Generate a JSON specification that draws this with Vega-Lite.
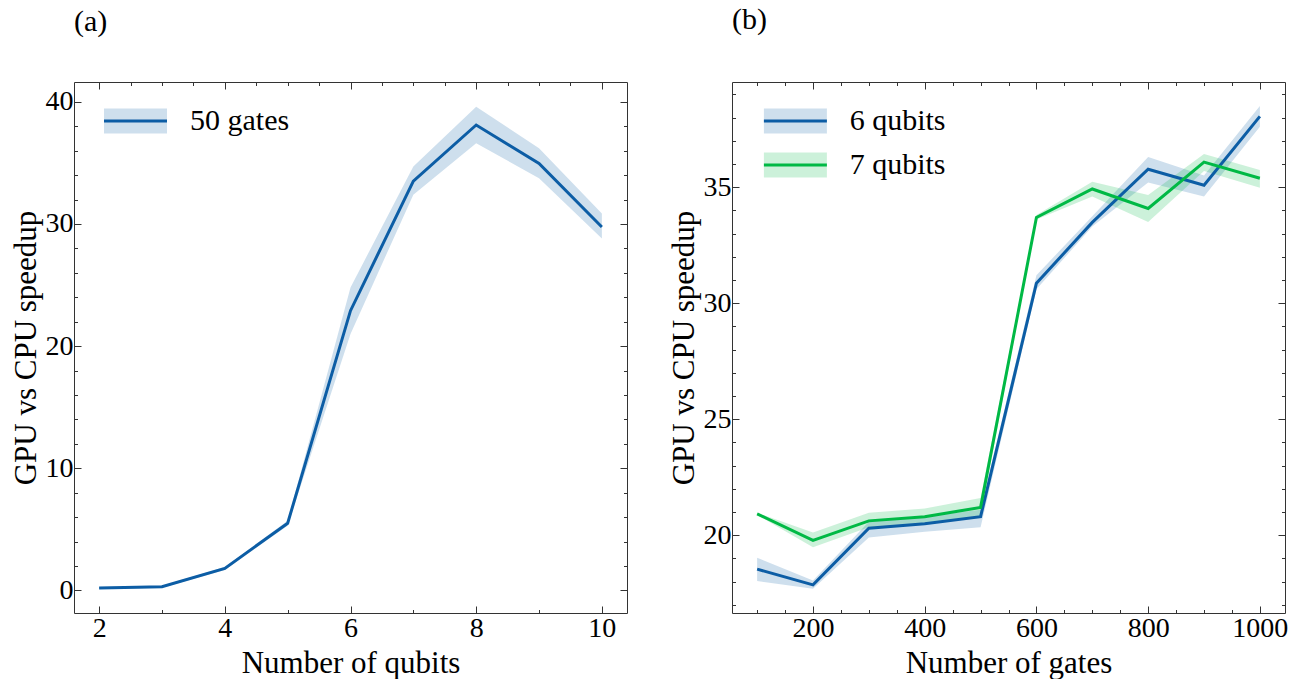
{
  "$schema": "https://vega.github.io/schema/vega-lite/v6.json",
  "padding": {"left": 10, "top": 5, "right": 0, "bottom": 0},
  "background": "white",
  "datasets": {
    "speedup": [
      {"panel": "a", "x": 2, "series": "50 gates", "y": 0.2, "lo": 0.12, "hi": 0.28},
      {"panel": "a", "x": 3, "series": "50 gates", "y": 0.3, "lo": 0.22, "hi": 0.38},
      {"panel": "a", "x": 4, "series": "50 gates", "y": 1.8, "lo": 1.68, "hi": 1.92},
      {"panel": "a", "x": 5, "series": "50 gates", "y": 5.5, "lo": 5.3, "hi": 5.7},
      {"panel": "a", "x": 6, "series": "50 gates", "y": 22.9, "lo": 21.0, "hi": 24.8},
      {"panel": "a", "x": 7, "series": "50 gates", "y": 33.5, "lo": 32.4, "hi": 34.7},
      {"panel": "a", "x": 8, "series": "50 gates", "y": 38.1, "lo": 36.6, "hi": 39.6},
      {"panel": "a", "x": 9, "series": "50 gates", "y": 34.95, "lo": 33.75, "hi": 36.2},
      {"panel": "a", "x": 10, "series": "50 gates", "y": 29.75, "lo": 28.8, "hi": 30.85},
      {"panel": "b", "x": 100, "series": "6 qubits", "y": 18.54, "lo": 18.03, "hi": 19.03},
      {"panel": "b", "x": 200, "series": "6 qubits", "y": 17.86, "lo": 17.7, "hi": 18.05},
      {"panel": "b", "x": 300, "series": "6 qubits", "y": 20.3, "lo": 19.9, "hi": 20.58},
      {"panel": "b", "x": 400, "series": "6 qubits", "y": 20.5, "lo": 20.15, "hi": 20.8},
      {"panel": "b", "x": 500, "series": "6 qubits", "y": 20.8, "lo": 20.35, "hi": 21.1},
      {"panel": "b", "x": 600, "series": "6 qubits", "y": 30.86, "lo": 30.6, "hi": 31.2},
      {"panel": "b", "x": 700, "series": "6 qubits", "y": 33.48, "lo": 33.3, "hi": 33.75},
      {"panel": "b", "x": 800, "series": "6 qubits", "y": 35.77, "lo": 35.2, "hi": 36.3},
      {"panel": "b", "x": 900, "series": "6 qubits", "y": 35.08, "lo": 34.6, "hi": 35.5},
      {"panel": "b", "x": 1000, "series": "6 qubits", "y": 38.05, "lo": 37.6, "hi": 38.5},
      {"panel": "b", "x": 100, "series": "7 qubits", "y": 20.92, "lo": 20.87, "hi": 20.97},
      {"panel": "b", "x": 200, "series": "7 qubits", "y": 19.78, "lo": 19.48, "hi": 20.12},
      {"panel": "b", "x": 300, "series": "7 qubits", "y": 20.62, "lo": 20.35, "hi": 20.97},
      {"panel": "b", "x": 400, "series": "7 qubits", "y": 20.8, "lo": 20.5, "hi": 21.15},
      {"panel": "b", "x": 500, "series": "7 qubits", "y": 21.2, "lo": 20.8, "hi": 21.6},
      {"panel": "b", "x": 600, "series": "7 qubits", "y": 33.69, "lo": 33.6, "hi": 33.8},
      {"panel": "b", "x": 700, "series": "7 qubits", "y": 34.92, "lo": 34.6, "hi": 35.23},
      {"panel": "b", "x": 800, "series": "7 qubits", "y": 34.08, "lo": 33.5, "hi": 34.66},
      {"panel": "b", "x": 900, "series": "7 qubits", "y": 36.08, "lo": 35.7, "hi": 36.43},
      {"panel": "b", "x": 1000, "series": "7 qubits", "y": 35.38, "lo": 34.97, "hi": 35.74}
    ]
  },
  "data": {"name": "speedup"},
  "spacing": 40,
  "hconcat": [
    {
      "width": 553,
      "height": 531,
      "title": {"text": "(a)"},
      "transform": [{"filter": "datum.panel === 'a'"}],
      "layer": [
        {
          "mark": {"type": "area", "fillOpacity": 0.2},
          "encoding": {
            "x": {"field": "x", "type": "quantitative", "scale": {"domain": [1.6, 10.4], "nice": false, "zero": false},
              "axis": {"orient": "bottom", "title": "Number of qubits", "format": "d", "values": [2,2.5,3,3.5,4,4.5,5,5.5,6,6.5,7,7.5,8,8.5,9,9.5,10],
                "labelExpr": "datum.value % 2 === 0 ? datum.label : ''",
                "tickSize": {"condition": {"test": "datum.value % 2 !== 0", "value": -3.5}, "value": -7}}},
            "y": {"field": "lo", "type": "quantitative", "scale": {"domain": [-1.85, 41.62], "nice": false, "zero": false},
              "axis": {"orient": "left", "title": "GPU vs CPU speedup", "format": "d", "values": [0,2,4,6,8,10,12,14,16,18,20,22,24,26,28,30,32,34,36,38,40],
                "labelExpr": "datum.value % 10 === 0 ? datum.label : ''",
                "tickSize": {"condition": {"test": "datum.value % 10 !== 0", "value": -3.5}, "value": -7}}},
            "y2": {"field": "hi"},
            "fill": {"field": "series", "type": "nominal", "scale": {"range": ["#0C5DA5"]},
              "legend": {"orient": "none", "legendX": 46.5, "legendY": 24, "title": null,
                "symbolType": "M-3.15,-1.25H3.15V1.25H-3.15Z", "symbolSize": 400, "symbolOpacity": 0.2, "symbolStrokeWidth": 0,
                "labelOpacity": 0, "labelOffset": 39.5}}
          }
        },
        {
          "mark": {"type": "line", "strokeWidth": 3},
          "encoding": {
            "x": {"field": "x", "type": "quantitative", "scale": {"domain": [1.6, 10.4], "nice": false, "zero": false},
              "axis": {"orient": "top", "title": null, "labels": false, "values": [2,2.5,3,3.5,4,4.5,5,5.5,6,6.5,7,7.5,8,8.5,9,9.5,10],
                "tickSize": {"condition": {"test": "datum.value % 2 !== 0", "value": -3.5}, "value": -7}}},
            "y": {"field": "y", "type": "quantitative", "scale": {"domain": [-1.85, 41.62], "nice": false, "zero": false},
              "axis": {"orient": "right", "title": null, "labels": false, "values": [0,2,4,6,8,10,12,14,16,18,20,22,24,26,28,30,32,34,36,38,40],
                "tickSize": {"condition": {"test": "datum.value % 10 !== 0", "value": -3.5}, "value": -7}}},
            "stroke": {"field": "series", "type": "nominal", "scale": {"domain": ["50 gates"], "range": ["#0C5DA5"]},
              "legend": {"orient": "none", "legendX": 46.5, "legendY": 24, "title": null,
                "symbolType": "M-3.15,0H3.15", "symbolSize": 400, "symbolStrokeWidth": 3, "symbolFillColor": "transparent",
                "labelOffset": 39.5}}
          }
        }
      ],
      "resolve": {"axis": {"x": "independent", "y": "independent"}}
    },
    {
      "width": 553,
      "height": 531,
      "title": {"text": "(b)"},
      "transform": [{"filter": "datum.panel === 'b'"}],
      "layer": [
        {
          "mark": {"type": "area", "fillOpacity": 0.2},
          "encoding": {
            "x": {"field": "x", "type": "quantitative", "scale": {"domain": [55, 1045], "nice": false, "zero": false},
              "axis": {"orient": "bottom", "title": "Number of gates", "format": "d", "values": [100,150,200,250,300,350,400,450,500,550,600,650,700,750,800,850,900,950,1000],
                "labelExpr": "datum.value % 200 === 0 ? datum.label : ''",
                "tickSize": {"condition": {"test": "datum.value % 200 !== 0", "value": -3.5}, "value": -7}}},
            "y": {"field": "lo", "type": "quantitative", "scale": {"domain": [16.65, 39.53], "nice": false, "zero": false},
              "axis": {"orient": "left", "title": "GPU vs CPU speedup", "format": "d", "values": [17,18,19,20,21,22,23,24,25,26,27,28,29,30,31,32,33,34,35,36,37,38,39],
                "labelExpr": "datum.value % 5 === 0 ? datum.label : ''",
                "tickSize": {"condition": {"test": "datum.value % 5 !== 0", "value": -3.5}, "value": -7}}},
            "y2": {"field": "hi"},
            "fill": {"field": "series", "type": "nominal", "scale": {"range": ["#0C5DA5", "#00B945"]},
              "legend": {"orient": "none", "legendX": 48.4, "legendY": 24, "title": null,
                "symbolType": "M-3.15,-1.25H3.15V1.25H-3.15Z", "symbolSize": 400, "symbolOpacity": 0.2, "symbolStrokeWidth": 0,
                "labelOpacity": 0, "labelOffset": 39.3}}
          }
        },
        {
          "mark": {"type": "line", "strokeWidth": 3},
          "encoding": {
            "x": {"field": "x", "type": "quantitative", "scale": {"domain": [55, 1045], "nice": false, "zero": false},
              "axis": {"orient": "top", "title": null, "labels": false, "values": [100,150,200,250,300,350,400,450,500,550,600,650,700,750,800,850,900,950,1000],
                "tickSize": {"condition": {"test": "datum.value % 200 !== 0", "value": -3.5}, "value": -7}}},
            "y": {"field": "y", "type": "quantitative", "scale": {"domain": [16.65, 39.53], "nice": false, "zero": false},
              "axis": {"orient": "right", "title": null, "labels": false, "values": [17,18,19,20,21,22,23,24,25,26,27,28,29,30,31,32,33,34,35,36,37,38,39],
                "tickSize": {"condition": {"test": "datum.value % 5 !== 0", "value": -3.5}, "value": -7}}},
            "stroke": {"field": "series", "type": "nominal", "scale": {"domain": ["6 qubits", "7 qubits"], "range": ["#0C5DA5", "#00B945"]},
              "legend": {"orient": "none", "legendX": 48.4, "legendY": 24, "title": null,
                "symbolType": "M-3.15,0H3.15", "symbolSize": 400, "symbolStrokeWidth": 3, "symbolFillColor": "transparent",
                "labelOffset": 39.3}}
          }
        }
      ],
      "resolve": {"axis": {"x": "independent", "y": "independent"}}
    }
  ],
  "resolve": {"scale": {"fill": "independent", "stroke": "independent"}},
  "config": {
    "font": "Liberation Serif",
    "view": {"stroke": null},
    "axis": {
      "grid": false,
      "domainColor": "#333333",
      "domainWidth": 1,
      "tickColor": "#333333",
      "tickWidth": 1,
      "labelFont": "Liberation Serif",
      "labelFontSize": 28,
      "labelColor": "black",
      "labelPadding": 8,
      "labelOverlap": false,
      "labelFlush": false,
      "titleFont": "Liberation Serif",
      "titleFontSize": 31,
      "titleFontWeight": "normal",
      "titleColor": "black",
      "titlePadding": 3
    },
    "legend": {
      "labelFont": "Liberation Serif",
      "labelFontSize": 30,
      "labelColor": "black",
      "labelLimit": 0,
      "padding": 0,
      "rowPadding": 14
    },
    "title": {
      "font": "Liberation Serif",
      "fontSize": 30,
      "fontWeight": "normal",
      "color": "black",
      "anchor": "start",
      "frame": "group",
      "baseline": "alphabetic",
      "offset": 45
    }
  }
}
